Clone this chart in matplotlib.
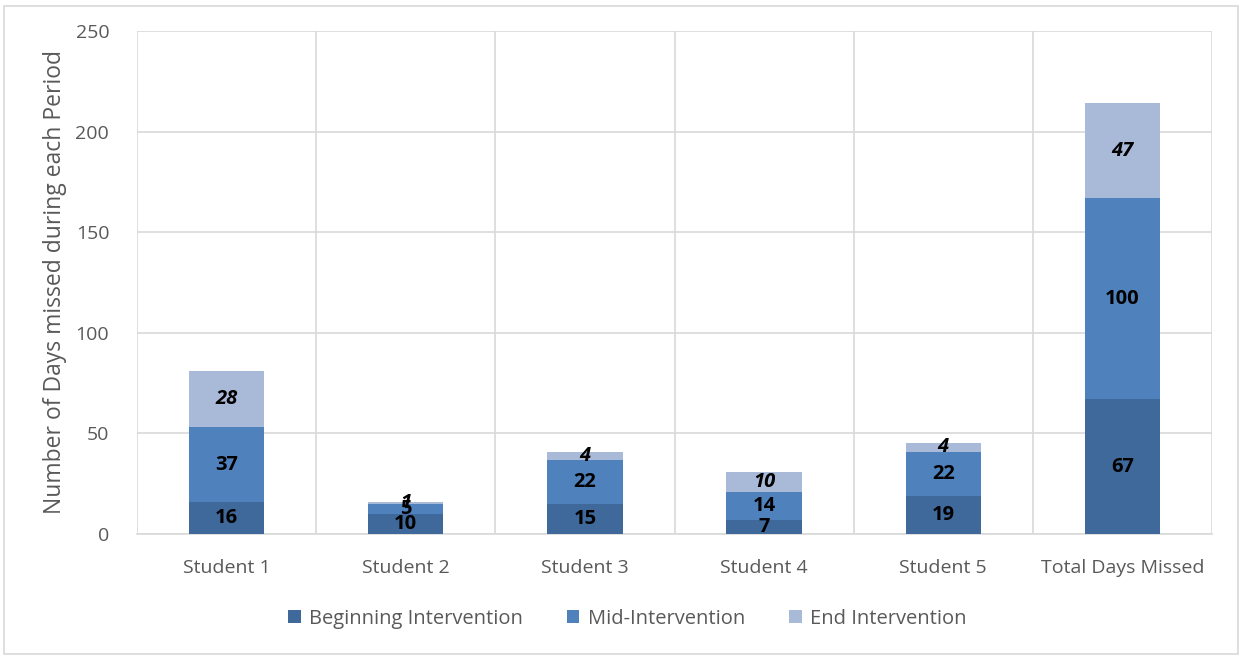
import matplotlib
matplotlib.use("Agg")
import matplotlib.pyplot as plt
from matplotlib.patches import Rectangle
import numpy as np

categories = ["Student 1", "Student 2", "Student 3", "Student 4", "Student 5", "Total Days Missed"]
beginning = [16, 10, 15, 7, 19, 67]
mid = [37, 5, 22, 14, 22, 100]
end = [28, 1, 4, 10, 4, 47]
series_names = ["Beginning Intervention", "Mid-Intervention", "End Intervention"]
colors = ["#40699B", "#4F81BD", "#A9B9D8"]

plt.rcParams['font.family'] = ['Open Sans', 'DejaVu Sans']

fig = plt.figure(figsize=(12.42, 6.58), dpi=100)
ax = fig.add_axes([137/1242, 1-534/658, (1212-137)/1242, (534-31)/658])

x = np.arange(len(categories))
w = 0.42
bottom = np.zeros(len(categories))
data = [beginning, mid, end]
for i, (vals, name, col) in enumerate(zip(data, series_names, colors)):
    vals = np.array(vals, dtype=float)
    ax.bar(x, vals, w, bottom=bottom, color=col, label=name, zorder=3, edgecolor='none')
    for xi, b, v in zip(x, bottom, vals):
        ax.text(xi, b + v/2, str(int(v)), ha='center', va='center', fontsize=14.5,
                fontweight='bold', style='italic' if i == 2 else 'normal',
                color='black', zorder=4)
    bottom += vals

ax.set_xlim(-0.5, len(categories)-0.5)
ax.set_ylim(0, 250)
ax.set_yticks([0, 50, 100, 150, 200, 250])
ax.set_xticks(x)
ax.set_xticklabels(categories)
ax.set_xticks(np.arange(-0.5, len(categories), 1), minor=True)
ax.grid(axis='y', color='#D9D9D9', linewidth=1.2, zorder=0)
ax.grid(axis='x', which='minor', color='#D9D9D9', linewidth=1.2, zorder=0)
ax.grid(axis='x', which='major', visible=False)
for s in ['top', 'right', 'left']:
    ax.spines[s].set_visible(False)
ax.spines['bottom'].set_color('#D9D9D9')
ax.spines['bottom'].set_linewidth(1.2)
ax.tick_params(axis='both', which='both', length=0, labelsize=14, colors='#595959')
ax.tick_params(axis='y', pad=20)
ax.tick_params(axis='x', pad=18)
ax.set_ylabel("Number of Days missed during each Period", fontsize=16.5, color='#595959', labelpad=6)

leg = fig.legend(loc='center', bbox_to_anchor=(0.505, 1-619/658), ncol=3, frameon=False,
                 fontsize=14.5, handlelength=0.62, handleheight=0.62, columnspacing=2.2,
                 handletextpad=0.4)
for t in leg.get_texts():
    t.set_color('#595959')

fig.patches.append(Rectangle((4/1242, 4/658), 1234/1242, 648/658, transform=fig.transFigure,
                             fill=False, edgecolor='#D9D9D9', linewidth=1.2))

fig.savefig("out.png", dpi=100)
